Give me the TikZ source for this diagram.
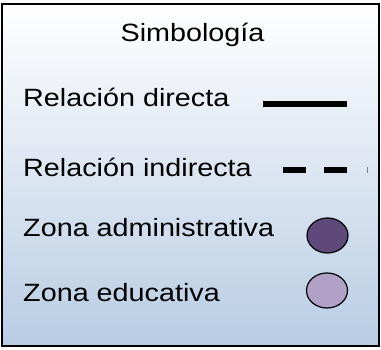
\documentclass[tikz,border=0pt]{standalone}
\usepackage{fontspec}
\setmainfont{Liberation Sans}
\usetikzlibrary{shapes.geometric}

\definecolor{fondoazul}{RGB}{184,204,228}
\definecolor{zonaadmin}{RGB}{95,73,122}
\definecolor{zonaedu}{RGB}{178,161,199}

\tikzset{
  etiqueta/.style={anchor=base west, inner sep=0pt, xscale=1.15, transform shape,
    font=\fontsize{25}{30}\selectfont},
  zona/.style={ellipse, draw, line width=1.2pt, minimum width=41pt, minimum height=35pt, inner sep=0pt}
}

\begin{document}
\begin{tikzpicture}[x=1pt,y=1pt]
        \useasboundingbox (0,0) rectangle (381,350);

        % Marco de la simbologia con degradado
        \coordinate (SW) at (1.5,4);
        \coordinate (NE) at (379,346);
        \shade[top color=white, bottom color=fondoazul] (SW) rectangle (NE);
        \draw[line width=2pt] (SW) rectangle (NE);

        % Titulo
        \node[anchor=base, inner sep=0pt, xscale=1.15, transform shape,
          font=\fontsize{25}{30}\selectfont] (titulo) at (192.5,308) {Simbología};

        % Textos
        \node[etiqueta] (directa) at (23,243) {Relación directa};
        \node[etiqueta] (indirecta) at (23,173) {Relación indirecta};
        \node[etiqueta] (admin) at (23,113) {Zona administrativa};
        \node[etiqueta] (edu) at (23,48) {Zona educativa};

        % Linea continua
        \coordinate (D1) at (263,246);
        \coordinate (D2) at (347,246);
        \draw[line width=6pt] (D1) -- (D2);

        % Linea discontinua
        \coordinate (I1) at (283,180);
        \coordinate (I2) at (348,180);
        \draw[line width=6pt, dash pattern=on 23pt off 18pt] (I1) -- (I2);
        \draw[gray, line width=0.8pt] (367,177) -- (367,183);

        % Zonas
        \node[zona, fill=zonaadmin] (circadmin) at (327.5,114.5) {};
        \node[zona, fill=zonaedu] (circedu) at (327,59.5) {};
    \end{tikzpicture}
\end{document}
